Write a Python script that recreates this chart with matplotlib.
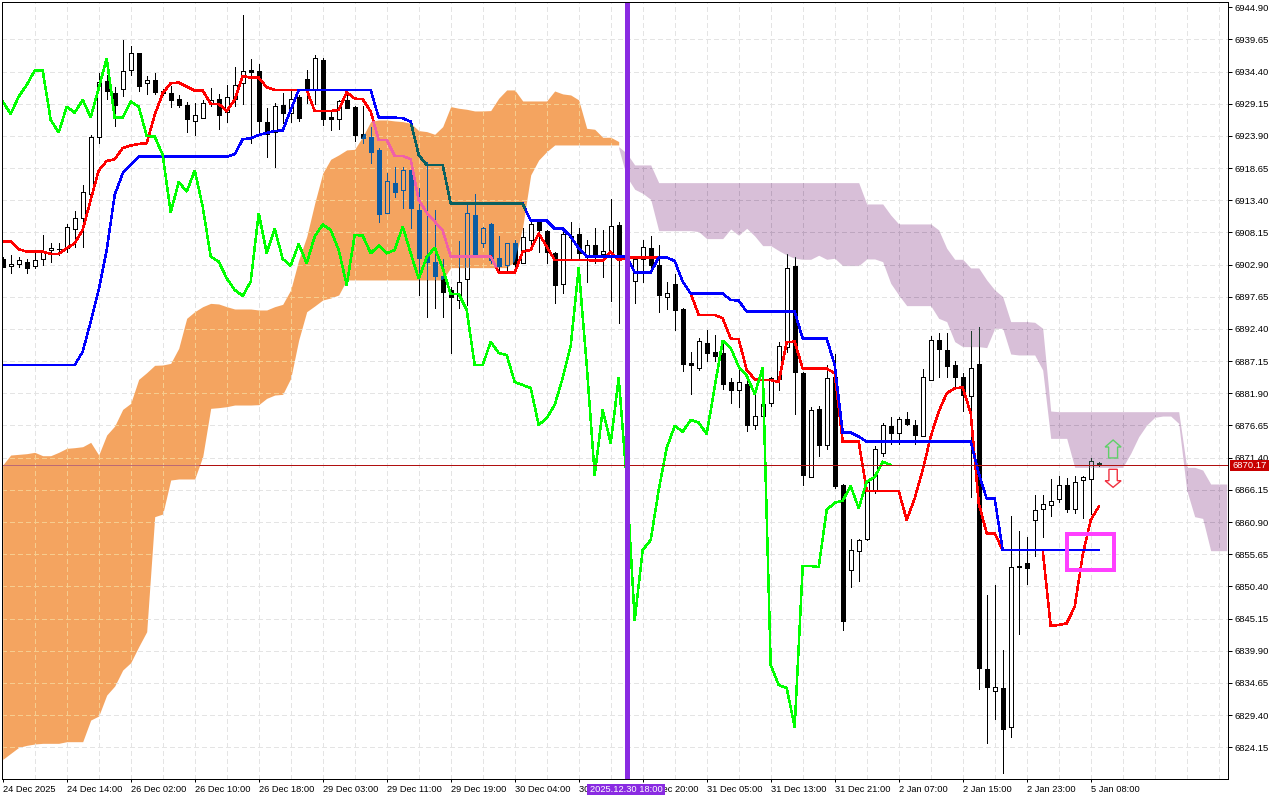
import matplotlib
matplotlib.use("Agg")
import matplotlib.pyplot as plt
from matplotlib.patches import Polygon, Rectangle
from matplotlib.path import Path
import numpy as np

plt.rcParams['font.family'] = ['Liberation Sans', 'DejaVu Sans']

# candles, one row of each list per bar
opens = [6903.9, 6902.6, 6903.0, 6903.4, 6902.6, 6903.8, 6905.3, 6905.4, 6905.6, 6908.7,
         6910.5, 6914.4, 6923.7, 6932.9, 6930.9, 6931.5, 6934.6, 6937.4, 6932.5, 6933.0,
         6931.3, 6930.9, 6929.9, 6928.9, 6926.3, 6926.8, 6929.3, 6929.9, 6927.8, 6930.0,
         6932.5, 6934.6, 6934.5, 6926.1, 6924.6, 6928.9, 6927.6, 6930.2, 6933.2, 6931.5,
         6936.3, 6927.0, 6926.7, 6929.8, 6928.6, 6924.2, 6923.7, 6921.6, 6911.4, 6916.3,
         6915.0, 6918.4, 6911.8, 6904.3, 6903.3, 6901.0, 6898.8, 6897.2, 6900.5, 6911.0,
         6906.4, 6909.5, 6904.0, 6902.8, 6906.5, 6903.2, 6907.0, 6909.9, 6908.4, 6904.8,
         6899.8, 6907.6, 6907.9, 6904.5, 6906.1, 6904.6, 6904.2, 6909.3, 6903.7, 6900.3,
         6903.8, 6905.6, 6902.9, 6897.7, 6899.8, 6895.7, 6886.8, 6886.1, 6890.1, 6888.7,
         6888.4, 6883.7, 6882.4, 6883.4, 6876.7, 6878.2, 6880.4, 6884.2, 6889.4, 6902.7,
         6885.2, 6868.3, 6879.3, 6873.4, 6884.5, 6866.9, 6853.0, 6856.1, 6858.2, 6866.2,
         6872.2, 6876.6, 6875.5, 6877.7, 6876.7, 6875.0, 6884.1, 6890.6, 6888.9, 6886.5,
         6884.6, 6881.5, 6886.7, 6836.9, 6833.4, 6833.8, 6827.4, 6853.7, 6854.2, 6861.2,
         6863.1, 6863.6, 6864.6, 6866.9, 6863.1, 6867.8, 6867.9, 6870.6]
closes = [6902.5, 6903.0, 6903.7, 6902.4, 6903.7, 6905.2, 6905.6, 6905.5, 6909.0, 6910.5,
          6914.7, 6923.7, 6932.7, 6931.3, 6928.9, 6934.5, 6937.4, 6932.1, 6933.0, 6931.0,
          6930.9, 6929.7, 6928.9, 6926.7, 6927.3, 6929.2, 6929.7, 6927.4, 6930.2, 6932.2,
          6934.5, 6934.4, 6926.4, 6924.3, 6928.8, 6927.6, 6929.9, 6926.9, 6931.4, 6936.6,
          6926.7, 6926.7, 6929.6, 6928.5, 6924.0, 6923.6, 6921.2, 6911.2, 6916.5, 6914.7,
          6918.3, 6912.1, 6904.0, 6903.4, 6901.1, 6898.5, 6897.7, 6900.0, 6911.3, 6904.6,
          6908.8, 6903.7, 6902.6, 6906.4, 6903.0, 6907.4, 6909.5, 6908.5, 6905.0, 6899.5,
          6907.9, 6907.4, 6904.8, 6906.1, 6904.6, 6905.2, 6909.2, 6903.8, 6904.2, 6903.9,
          6905.7, 6902.8, 6898.0, 6898.2, 6895.5, 6886.7, 6886.6, 6890.4, 6888.4, 6888.0,
          6883.5, 6882.5, 6883.7, 6876.7, 6878.2, 6880.1, 6884.4, 6889.6, 6902.3, 6885.3,
          6868.5, 6879.1, 6873.5, 6884.4, 6866.7, 6844.8, 6856.3, 6857.9, 6867.5, 6872.8,
          6876.7, 6875.5, 6877.7, 6876.9, 6875.1, 6884.5, 6890.6, 6889.1, 6886.4, 6884.6,
          6881.6, 6886.0, 6837.1, 6833.9, 6833.9, 6827.2, 6853.6, 6853.5, 6853.4, 6862.8,
          6863.9, 6864.4, 6866.9, 6863.1, 6867.5, 6868.2, 6870.8, 6870.17]
highs = [6904.1, 6904.5, 6904.2, 6903.9, 6904.8, 6907.8, 6906.4, 6906.5, 6909.5, 6911.6,
         6915.9, 6924.0, 6934.1, 6933.9, 6931.9, 6939.6, 6938.6, 6937.5, 6933.7, 6934.1,
         6931.5, 6932.1, 6930.6, 6929.5, 6929.2, 6929.8, 6931.7, 6930.8, 6932.2, 6935.2,
         6943.7, 6936.4, 6935.7, 6928.4, 6929.3, 6930.9, 6931.4, 6930.6, 6934.6, 6937.1,
         6936.7, 6928.2, 6929.8, 6931.3, 6928.8, 6928.8, 6925.3, 6921.9, 6917.8, 6918.8,
         6918.8, 6918.6, 6915.4, 6919.7, 6911.8, 6903.9, 6899.3, 6906.8, 6912.6, 6914.5,
         6909.1, 6909.7, 6907.5, 6906.5, 6906.9, 6908.8, 6910.2, 6910.3, 6908.5, 6904.9,
         6908.5, 6909.9, 6908.8, 6907.0, 6908.8, 6908.6, 6913.6, 6909.8, 6905.0, 6904.2,
         6906.9, 6907.5, 6906.1, 6900.0, 6901.4, 6895.8, 6888.7, 6891.0, 6892.2, 6891.4,
         6890.3, 6884.4, 6885.8, 6884.4, 6881.9, 6886.0, 6884.6, 6890.2, 6904.6, 6904.2,
         6885.4, 6879.7, 6879.8, 6886.5, 6888.3, 6867.1, 6858.2, 6858.2, 6867.8, 6873.3,
         6877.0, 6878.1, 6878.1, 6878.9, 6877.6, 6885.8, 6891.2, 6891.7, 6891.7, 6887.1,
         6885.2, 6892.0, 6892.8, 6849.0, 6850.6, 6840.0, 6861.9, 6859.4, 6858.5, 6865.3,
         6865.3, 6867.9, 6868.4, 6868.0, 6868.4, 6868.4, 6871.3, 6870.7]
lows = [6902.5, 6901.5, 6902.5, 6901.5, 6902.4, 6902.9, 6903.4, 6904.5, 6904.9, 6905.7,
        6905.8, 6913.5, 6922.7, 6929.9, 6925.6, 6930.5, 6933.9, 6931.3, 6930.8, 6930.8,
        6930.6, 6928.7, 6928.6, 6924.6, 6924.0, 6926.8, 6928.8, 6925.1, 6926.2, 6928.8,
        6929.1, 6922.8, 6924.2, 6920.4, 6918.9, 6926.0, 6926.1, 6926.4, 6929.2, 6929.1,
        6925.7, 6924.9, 6925.0, 6928.4, 6923.1, 6922.7, 6919.5, 6909.8, 6911.4, 6914.0,
        6912.1, 6908.8, 6898.0, 6894.4, 6895.8, 6894.4, 6888.5, 6895.8, 6896.3, 6904.2,
        6905.7, 6903.1, 6902.0, 6901.8, 6901.5, 6903.1, 6905.8, 6905.0, 6903.1, 6896.6,
        6898.2, 6903.7, 6903.7, 6900.0, 6903.1, 6900.9, 6897.0, 6893.4, 6902.0, 6896.6,
        6900.0, 6901.5, 6895.2, 6895.7, 6892.2, 6885.6, 6881.8, 6885.7, 6887.1, 6887.1,
        6882.6, 6880.4, 6879.6, 6875.8, 6876.1, 6876.1, 6879.9, 6882.5, 6888.7, 6878.5,
        6866.9, 6868.3, 6871.7, 6872.8, 6866.4, 6843.3, 6850.3, 6851.3, 6857.9, 6865.6,
        6871.7, 6873.7, 6873.7, 6876.8, 6873.7, 6875.0, 6884.0, 6884.5, 6884.5, 6882.8,
        6879.0, 6864.9, 6833.6, 6824.9, 6828.7, 6819.9, 6825.8, 6842.6, 6850.8, 6855.4,
        6858.4, 6861.8, 6864.1, 6862.6, 6862.3, 6861.5, 6862.2, 6870.1]

tenkan = [6906.66, 6906.66, 6905.41, 6905.03, 6905.03, 6905.03, 6904.65, 6904.65, 6905.57, 6906.39,
          6908.56, 6913.46, 6918.25, 6919.82, 6920.10, 6921.95, 6922.33, 6922.60, 6922.71, 6927.33,
          6930.87, 6932.50, 6932.61, 6931.96, 6931.30, 6931.30, 6929.13, 6929.13, 6927.98, 6929.78,
          6933.70, 6933.42, 6933.42, 6931.85, 6931.41, 6931.41, 6931.41, 6931.41, 6931.41, 6927.98,
          6927.98, 6927.98, 6928.15, 6931.03, 6930.00, 6929.89, 6927.90, 6923.24, 6923.24, 6920.63,
          6920.63, 6920.09, 6913.45, 6911.38, 6909.91, 6908.45, 6904.20, 6904.20, 6904.20, 6904.20,
          6904.20, 6904.20, 6901.59, 6901.59, 6901.59, 6905.02, 6905.29, 6908.01, 6905.83, 6903.66,
          6903.66, 6903.66, 6903.66, 6903.66, 6903.55, 6903.55, 6904.96, 6903.66, 6904.09, 6904.09,
          6904.09, 6904.09, 6904.09, 6904.09, 6903.49, 6900.13, 6898.17, 6894.69, 6894.69, 6894.69,
          6894.14, 6890.83, 6890.72, 6885.71, 6884.19, 6884.08, 6884.08, 6883.75, 6890.23, 6890.34,
          6885.93, 6885.93, 6885.93, 6885.93, 6885.17, 6874.02, 6874.02, 6874.02, 6866.00, 6866.00,
          6866.00, 6866.00, 6866.00, 6861.22, 6864.76, 6869.39, 6874.83, 6878.91, 6881.90, 6882.72,
          6882.88, 6878.64, 6864.00, 6859.05, 6859.05, 6856.33, 6856.33, 6856.33, 6856.33, 6856.33,
          6856.33, 6843.92, 6844.09, 6844.36, 6847.08, 6855.51, 6861.22, 6863.40]
kijun = [6886.52, 6886.52, 6886.52, 6886.52, 6886.52, 6886.52, 6886.52, 6886.52, 6886.52, 6886.52,
         6888.70, 6893.59, 6898.76, 6905.30, 6914.28, 6917.81, 6919.17, 6920.53, 6920.53, 6920.53,
         6920.53, 6920.53, 6920.53, 6920.53, 6920.53, 6920.53, 6920.53, 6920.53, 6920.53, 6920.91,
         6923.36, 6923.52, 6924.07, 6924.39, 6924.72, 6924.78, 6928.15, 6931.41, 6931.41, 6931.41,
         6931.41, 6931.41, 6931.41, 6931.41, 6931.41, 6931.41, 6931.41, 6926.90, 6926.90, 6926.90,
         6926.79, 6926.24, 6920.80, 6919.17, 6919.17, 6919.17, 6912.85, 6912.85, 6912.85, 6912.85,
         6912.85, 6912.85, 6912.85, 6912.85, 6912.85, 6912.85, 6910.08, 6910.08, 6910.08, 6908.77,
         6908.77, 6907.47, 6905.56, 6904.20, 6904.20, 6904.20, 6904.20, 6904.20, 6904.20, 6901.59,
         6901.59, 6901.59, 6904.09, 6904.09, 6903.49, 6900.13, 6898.17, 6898.17, 6898.17, 6898.17,
         6898.17, 6897.14, 6897.03, 6895.23, 6895.23, 6895.23, 6895.23, 6895.23, 6895.23, 6895.23,
         6890.83, 6890.83, 6890.83, 6890.83, 6886.53, 6875.48, 6875.48, 6874.83, 6874.02, 6874.02,
         6874.02, 6874.02, 6874.02, 6874.02, 6874.02, 6874.02, 6874.02, 6874.02, 6874.02, 6874.02,
         6874.02, 6874.02, 6868.84, 6864.70, 6864.70, 6856.33, 6856.33, 6856.33, 6856.33, 6856.33,
         6856.33, 6856.33, 6856.33, 6856.33, 6856.33, 6856.33, 6856.33, 6856.33]
chikou = [6929.51, 6927.50, 6930.32, 6932.23, 6934.57, 6934.57, 6926.52, 6924.45, 6928.69, 6927.71,
          6929.78, 6926.95, 6931.68, 6936.58, 6926.90, 6926.90, 6929.51, 6928.69, 6923.90, 6923.80,
          6920.80, 6911.39, 6916.40, 6914.82, 6918.25, 6912.37, 6904.21, 6903.40, 6900.68, 6898.77,
          6897.79, 6900.13, 6911.28, 6904.76, 6908.73, 6903.83, 6902.74, 6906.28, 6903.12, 6907.48,
          6909.43, 6908.56, 6905.30, 6899.59, 6907.75, 6907.64, 6904.76, 6906.01, 6904.76, 6905.30,
          6909.11, 6904.76, 6900.60, 6904.10, 6905.67, 6902.30, 6898.11, 6898.11, 6895.50, 6886.52,
          6886.52, 6890.32, 6888.48, 6888.15, 6883.75, 6883.26, 6882.77, 6876.73, 6877.87, 6879.99,
          6884.40, 6889.62, 6902.35, 6886.52, 6868.57, 6879.18, 6873.79, 6884.40, 6867.75, 6844.91,
          6856.33, 6857.96, 6866.12, 6872.98, 6876.57, 6875.64, 6877.55, 6877.11, 6875.26, 6882.98,
          6890.49, 6889.30, 6886.25, 6884.78, 6881.79, 6886.03, 6837.56, 6834.30, 6833.81, 6827.44,
          6853.72, 6853.72, 6853.56, 6862.86, 6864.05, 6864.38, 6866.77, 6863.14, 6867.48, 6868.24,
          6870.74, 6870.20]

# cloud edges: orange covers bars 0..77, purple bars 77..153
orange_top = [6870.20, 6871.83, 6871.94, 6872.05, 6872.27, 6871.72, 6871.72, 6872.27, 6872.92, 6873.03,
              6873.19, 6873.90, 6871.83, 6875.10, 6876.56, 6879.28, 6880.26, 6884.18, 6885.27, 6886.47,
              6886.52, 6886.79, 6889.24, 6894.14, 6895.22, 6896.04, 6896.58, 6896.48, 6896.04, 6895.66,
              6895.66, 6895.66, 6895.50, 6895.50, 6896.04, 6896.42, 6898.77, 6903.66, 6907.47, 6912.91,
              6917.81, 6920.09, 6920.80, 6921.62, 6921.72, 6923.79, 6926.24, 6926.51, 6926.51, 6926.35,
              6926.24, 6925.97, 6924.77, 6924.61, 6924.17, 6925.42, 6928.69, 6928.42, 6928.25, 6927.98,
              6927.98, 6928.04, 6930.05, 6931.41, 6931.41, 6929.61, 6929.61, 6929.61, 6929.61, 6931.24,
              6930.76, 6930.59, 6929.78, 6925.15, 6924.99, 6923.68, 6923.68, 6922.98]
orange_bottom = [6822.16, 6823.14, 6824.12, 6824.45, 6824.67, 6824.78, 6824.78, 6824.78, 6825.05, 6825.05,
                 6825.05, 6828.58, 6829.24, 6832.66, 6834.13, 6836.74, 6837.94, 6840.55, 6843.00, 6861.77,
                 6862.20, 6867.75, 6867.92, 6867.92, 6867.92, 6871.56, 6879.45, 6879.56, 6879.72, 6879.99,
                 6879.99, 6879.99, 6880.05, 6881.08, 6881.62, 6881.73, 6884.34, 6890.60, 6895.22, 6896.15,
                 6897.13, 6897.46, 6897.95, 6900.40, 6900.40, 6900.40, 6900.40, 6900.40, 6900.40, 6900.40,
                 6900.40, 6900.40, 6900.40, 6900.40, 6900.40, 6900.40, 6902.41, 6902.41, 6902.41, 6902.41,
                 6902.41, 6902.41, 6902.41, 6902.41, 6903.39, 6909.10, 6917.54, 6919.98, 6921.34, 6922.43,
                 6922.43, 6922.43, 6922.43, 6922.43, 6922.43, 6922.43, 6922.43, 6922.43]
purple_top = [6922.16, 6921.07, 6919.17, 6919.17, 6919.17, 6916.28, 6916.28, 6916.28, 6916.28, 6916.28,
              6916.28, 6916.28, 6916.28, 6916.28, 6916.28, 6916.28, 6916.28, 6916.28, 6916.28, 6916.28,
              6916.28, 6916.28, 6916.28, 6916.28, 6916.28, 6916.28, 6916.28, 6916.28, 6916.28, 6916.28,
              6916.28, 6912.80, 6912.80, 6912.80, 6911.01, 6909.54, 6909.54, 6909.54, 6909.54, 6909.54,
              6908.56, 6905.57, 6903.77, 6903.77, 6902.36, 6902.36, 6900.40, 6898.77, 6897.68, 6893.60,
              6893.60, 6893.60, 6893.49, 6892.51, 6879.01, 6878.90, 6878.90, 6878.90, 6878.90, 6878.90,
              6878.90, 6878.90, 6878.90, 6878.90, 6878.90, 6878.90, 6878.90, 6878.90, 6878.90, 6878.90,
              6878.90, 6869.82, 6869.82, 6869.38, 6867.10, 6867.10, 6867.10]
purple_bottom = [6921.89, 6917.26, 6915.20, 6914.54, 6913.56, 6908.45, 6908.45, 6908.45, 6908.45, 6908.45,
                 6908.29, 6907.15, 6907.15, 6907.15, 6908.72, 6907.69, 6908.83, 6907.58, 6906.00, 6906.00,
                 6905.19, 6904.48, 6903.94, 6903.77, 6903.77, 6904.43, 6903.77, 6903.94, 6902.74, 6902.74,
                 6902.74, 6903.83, 6903.83, 6903.39, 6899.86, 6897.95, 6896.21, 6896.21, 6896.21, 6896.21,
                 6894.14, 6893.60, 6890.34, 6889.52, 6889.52, 6889.52, 6889.36, 6892.51, 6892.51, 6888.32,
                 6888.16, 6888.16, 6888.16, 6885.71, 6874.55, 6874.55, 6874.55, 6869.82, 6869.82, 6869.82,
                 6869.82, 6869.82, 6869.82, 6869.82, 6872.10, 6874.82, 6876.73, 6877.98, 6878.19, 6878.19,
                 6877.00, 6866.12, 6861.77, 6861.49, 6856.22, 6856.22, 6856.22]

price_ticks = [6944.90, 6939.65, 6934.40, 6929.15, 6923.90, 6918.65, 6913.40, 6908.15,
               6902.90, 6897.65, 6892.40, 6887.15, 6881.90, 6876.65, 6871.40, 6866.15,
               6860.90, 6855.65, 6850.40, 6845.15, 6839.90, 6834.65, 6829.40, 6824.15]
time_labels = ['24 Dec 2025', '24 Dec 14:00', '26 Dec 02:00', '26 Dec 10:00', '26 Dec 18:00',
               '29 Dec 03:00', '29 Dec 11:00', '29 Dec 19:00', '30 Dec 04:00', '30 Dec 12:00',
               '30 Dec 20:00', '31 Dec 05:00', '31 Dec 13:00', '31 Dec 21:00', '2 Jan 07:00',
               '2 Jan 15:00', '2 Jan 23:00', '5 Jan 08:00']
last_price = 6870.17
marker_bar = 78
marker_label = '2025.12.30 18:00'

W, H = 1280, 800
PX = 0.72  # one pixel in points at dpi 100
left, right, top, bottom = 2, 1228, 2, 779

fig = plt.figure(figsize=(W / 100, H / 100), dpi=100, facecolor='white')
ax = fig.add_axes([left / W, 1 - bottom / H, (right - left) / W, (bottom - top) / H])
ax.set_xlim((left - 2.7) / 8, (right - 2.7) / 8)
ax.set_ylim(6818.96, 6945.76)

# cloud
x_orange = np.arange(len(orange_top))
x_purple = np.arange(len(purple_top)) + len(orange_top) - 1
orange_fill = ax.fill_between(x_orange, orange_top, orange_bottom, color='#f4a460', lw=0, zorder=1)
purple_fill = ax.fill_between(x_purple, purple_top, purple_bottom, color='#d8bfd8', lw=0, zorder=1)
orange_clip = Path(np.column_stack([np.r_[x_orange, x_orange[::-1]],
                                    np.r_[orange_top, orange_bottom[::-1]]]))
purple_clip = Path(np.column_stack([np.r_[x_purple, x_purple[::-1]],
                                    np.r_[purple_top, purple_bottom[::-1]]]))


def draw_grid(color, clip=None):
    arts = []
    for p in price_ticks[1:]:
        arts += ax.plot(ax.get_xlim(), [p, p], color=color, lw=PX, ls=(0, (5, 3)), zorder=2)
    for i in range(4, 154, 4):
        arts += ax.plot([i, i], ax.get_ylim(), color=color, lw=PX, ls=(0, (5, 3)), zorder=2)
    for a in arts:
        a.set_antialiased(False)
        if clip is not None:
            a.set_clip_path(clip, ax.transData)


draw_grid('#e4e4e4')
draw_grid('#f6cc8e', orange_clip)
draw_grid('#bda6bf', purple_clip)


def draw_candles(color, up_fill, zorder, clip=None):
    xs = np.arange(len(opens))
    o, c = np.array(opens), np.array(closes)
    arts = [ax.vlines(xs, lows, highs, color=color, lw=PX, zorder=zorder, antialiased=False)]
    up = c >= o
    body_top = np.maximum(o, c)
    body_bot = np.minimum(o, c)
    for mask, fill in ((up, up_fill), (~up, color)):
        bars = ax.bar(xs[mask], (body_top - body_bot)[mask], bottom=body_bot[mask], width=0.5,
                      facecolor=fill, edgecolor=color, lw=PX, zorder=zorder, antialiased=False)
        arts += list(bars)
    if clip is not None:
        for a in arts:
            a.set_clip_path(clip, ax.transData)


draw_candles('black', 'white', 3)
draw_candles('#0b5ca3', '#f4a460', 4, orange_clip)
draw_candles('#1c3a2c', '#d8bfd8', 4, purple_clip)


def draw_line(values, color, cloud_color, zorder):
    ax.plot(np.arange(len(values)), values, color=color, lw=1.5 * PX, zorder=zorder,
            antialiased=False, solid_joinstyle='miter')
    if cloud_color:
        ln, = ax.plot(np.arange(len(values)), values, color=cloud_color, lw=1.5 * PX,
                      zorder=zorder + 0.1, antialiased=False)
        ln.set_clip_path(orange_clip, ax.transData)


draw_line(tenkan, '#ff0000', '#f060a8', 5)
draw_line(kijun, '#0000ff', '#0a6060', 6)
draw_line(chikou, '#00ff00', None, 7)

# last price line, mauve where it crosses the orange cloud
ax.axhline(last_price, color='#b01010', lw=PX, zorder=8, antialiased=False)
price_over = ax.axhline(last_price, color='#bc6a74', lw=PX, zorder=8.1, antialiased=False)
price_over.set_clip_path(orange_clip, ax.transData)

# selected bar
ax.axvline(marker_bar, color='#8a2be2', lw=5 * PX, zorder=9)

# highlight box and the two arrows
ax.add_patch(Rectangle((133.05, 6853.0), 5.85, 6.0, fill=False, ec='#ff40ff', lw=4 * PX, zorder=10,
                       antialiased=False))
ax.add_patch(Polygon([(138.8, 6874.28), (139.8, 6873.14), (139.36, 6873.14), (139.36, 6871.35),
                      (138.24, 6871.35), (138.24, 6873.14), (137.8, 6873.14)],
                     fill=False, ec='#5fd068', lw=1.0, zorder=10))
ax.add_patch(Polygon([(138.8, 6866.56), (139.8, 6867.64), (139.32, 6867.64), (139.32, 6869.5),
                      (138.28, 6869.5), (138.28, 6867.64), (137.8, 6867.64)],
                     fc='white', ec='#f03040', lw=1.0, zorder=10))

# axes and labels
for s in ax.spines.values():
    s.set_linewidth(PX)
    s.set_color('black')
    s.set_zorder(11)
ax.yaxis.tick_right()
ax.set_yticks(price_ticks)
ax.set_yticklabels([f'{p:.2f}' for p in price_ticks])
ax.tick_params(axis='y', length=4 * PX, width=PX, pad=1.5, labelsize=6.8)
ax.set_xticks(range(0, 8 * len(time_labels), 8))
ax.set_xticklabels(time_labels, ha='left')
ax.tick_params(axis='x', length=3 * PX, width=PX, pad=2.5, labelsize=6.7)

# boxes that sit on top of the axis labels
fig.add_artist(Rectangle((1230 / W, 1 - 471 / H), 39 / W, 11 / H, transform=fig.transFigure,
                         fc='#c80000', ec='none', zorder=20))
fig.text(1249.5 / W, 1 - 465.5 / H, f'{last_price:.2f}', color='white', fontsize=6.8,
         ha='center', va='center', zorder=21)
fig.add_artist(Rectangle((587 / W, 1 - 795 / H), 78 / W, 11 / H, transform=fig.transFigure,
                         fc='#8a2be2', ec='none', zorder=20))
fig.text(626 / W, 1 - 789.5 / H, marker_label, color='white', fontsize=6.7,
         ha='center', va='center', zorder=21)

fig.savefig('out.png', dpi=100)
